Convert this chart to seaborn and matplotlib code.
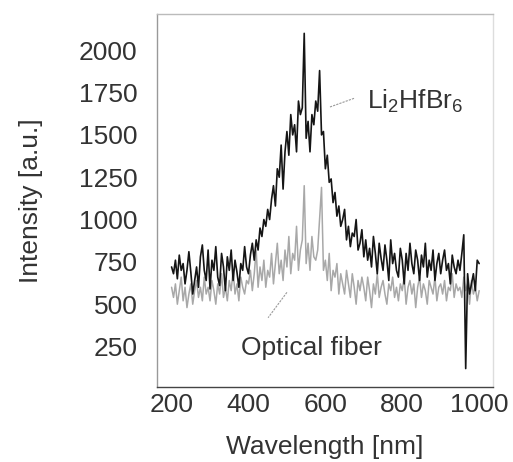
import numpy as np
import pandas as pd
import seaborn as sns
import matplotlib.pyplot as plt

# wavelength grid, 5 nm steps
wavelength = list(range(200, 1001, 5))

# Li2HfBr6 scintillation spectrum
li2hfbr6 = [
    720, 680, 760, 650, 790, 700, 740, 620, 700, 810,
    690, 560, 640, 720, 600, 780, 850, 700, 640, 820,
    590, 760, 700, 840, 660, 610, 800, 720, 580, 780,
    700, 820, 640, 760, 690, 600, 740, 700, 840, 720,
    680, 790, 860, 760, 880, 820, 950, 900, 1000, 960,
    1060, 1000, 1120, 1200, 1080, 1300, 1250, 1440, 1180, 1400,
    1520, 1380, 1620, 1500, 1560, 1400, 1700, 1620, 1660, 2100,
    1480, 1580, 1400, 1620, 1560, 1700, 1640, 1880, 1500, 1520,
    1300, 1380, 1220, 1240, 1100, 1160, 1020, 1080, 960, 1000,
    1060, 880, 960, 840, 920, 900, 1000, 820, 860, 940,
    780, 880, 760, 830, 720, 900, 800, 680, 860, 770,
    700, 850, 760, 640, 880, 740, 800, 700, 660, 830,
    760, 620, 800, 700, 860, 740, 680, 820, 760, 640,
    790, 720, 860, 660, 760, 700, 820, 640, 740, 800,
    680, 760, 820, 700, 740, 620, 790, 720, 680, 760,
    700, 800, 910, 120, 680, 560, 620, 680, 580, 760,
    740,
]

# optical fiber background
fiber = [
    600, 540, 620, 500, 580, 660, 520, 600, 480, 560,
    620, 500, 580, 640, 540, 600, 520, 660, 560, 600,
    520, 640, 580, 500, 620, 560, 680, 540, 600, 520,
    640, 580, 700, 560, 620, 520, 660, 600, 560, 640,
    620, 700, 580, 680, 820, 600, 720, 640, 760, 600,
    700, 660, 800, 620, 740, 860, 680, 760, 640, 820,
    720, 900, 680, 800, 760, 960, 700, 820, 880, 1200,
    740, 860, 700, 900, 780, 760, 820, 1000, 1190, 700,
    760, 640, 800, 580, 700, 660, 740, 560, 680, 620,
    560, 700, 620, 540, 680, 600, 500, 640, 580, 660,
    600, 520, 660, 580, 480, 620, 560, 680, 540, 600,
    640, 560, 500, 620, 580, 660, 540, 600, 520, 620,
    580, 660, 500, 600, 640, 560, 620, 480, 600, 660,
    540, 620, 580, 500, 640, 600, 560, 660, 520, 600,
    620, 560, 640, 520, 600, 580, 680, 540, 620, 580,
    600, 540, 660, 580, 620, 500, 640, 560, 600, 520,
    580,
]

df = pd.DataFrame({'wavelength': wavelength, 'li': li2hfbr6, 'fiber': fiber})

sns.set_style("white")
plt.rcParams['font.family'] = ['Liberation Sans', 'DejaVu Sans']
plt.rcParams['mathtext.fontset'] = 'custom'
plt.rcParams['mathtext.rm'] = 'Liberation Sans'
plt.rcParams['mathtext.it'] = 'Liberation Sans'

text_col = '#333333'
fs = 19
fig = plt.figure(figsize=(5.13, 4.62), dpi=100)
ax = fig.add_axes([0.306, 0.162, 0.655, 0.808])

sns.lineplot(x='wavelength', y='fiber', data=df, ax=ax, color='#a8a8a8', linewidth=1.1)
sns.lineplot(x='wavelength', y='li', data=df, ax=ax, color='#151515', linewidth=1.2)

ax.set_xlim(162, 1036)
ax.set_ylim(10, 2215)
ax.set_xticks([200, 400, 600, 800, 1000])
ax.set_xticks([300, 500, 700, 900], minor=True)
ax.set_yticks([250, 500, 750, 1000, 1250, 1500, 1750, 2000])
ax.tick_params(axis='both', which='both', direction='in', length=3, width=0.8,
               colors='#999999', labelcolor=text_col, labelsize=fs)
ax.tick_params(axis='x', pad=4)
ax.tick_params(axis='y', pad=14)

ax.set_xlabel('Wavelength [nm]', fontsize=fs, color=text_col, labelpad=13)
ax.set_ylabel('Intensity [a.u.]', fontsize=fs, color=text_col, labelpad=26)

ax.spines['left'].set_color('#999999')
ax.spines['bottom'].set_color('#444444')
ax.spines['top'].set_color('#bbbbbb')
ax.spines['right'].set_color('#dddddd')
for s in ax.spines.values():
    s.set_linewidth(1.0)

# labels with leader lines
ax.plot([612, 677], [1665, 1718], color='#999999', linewidth=0.8, linestyle=(0, (2, 1)))
ax.text(708, 1700, 'Li$_2$HfBr$_6$', fontsize=fs, color=text_col, va='center', ha='left')
ax.plot([500, 451], [570, 420], color='#999999', linewidth=0.8, linestyle=(0, (2, 1)))
ax.text(565, 244, 'Optical fiber', fontsize=fs, color=text_col, va='center', ha='center')

plt.savefig('out.png', dpi=100)
plt.close()
